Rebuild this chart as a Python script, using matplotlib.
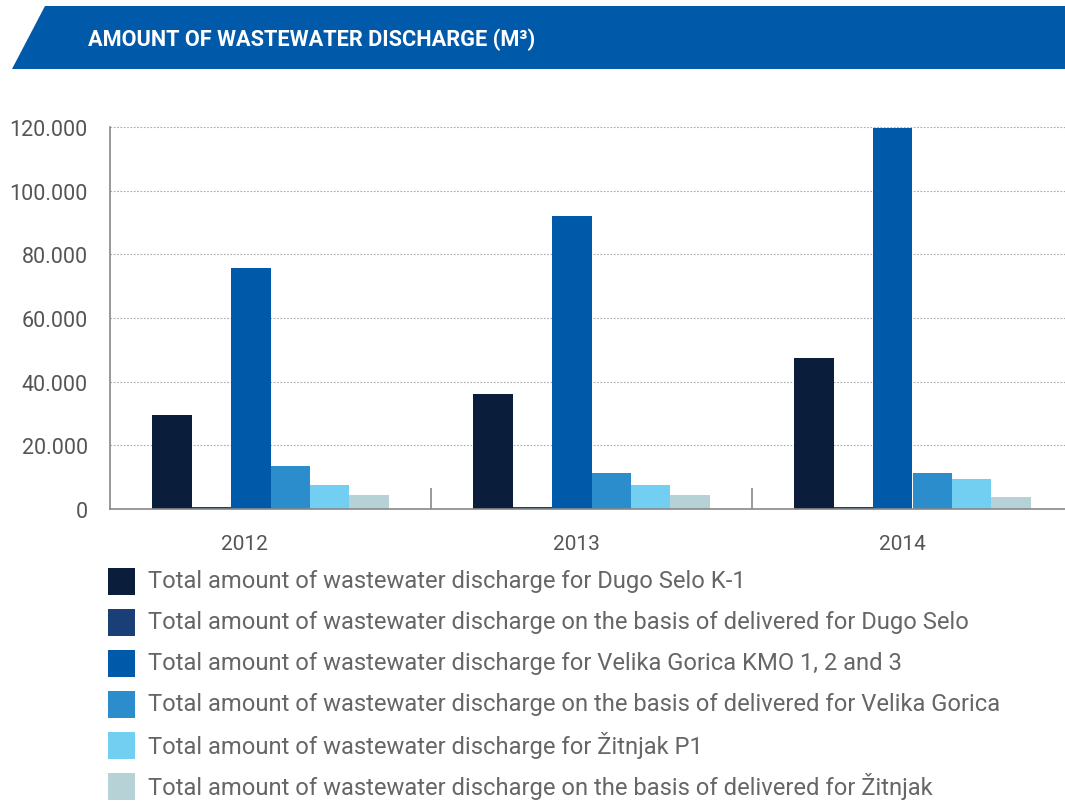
import numpy as np
import matplotlib.pyplot as plt
from matplotlib import ticker
from matplotlib.patches import Polygon, Rectangle

plt.rcParams['font.family'] = ['Roboto', 'DejaVu Sans']

years = ['2012', '2013', '2014']
series_labels = [
    'Total amount of wastewater discharge for Dugo Selo K-1',
    'Total amount of wastewater discharge on the basis of delivered for Dugo Selo',
    'Total amount of wastewater discharge for Velika Gorica KMO 1, 2 and 3',
    'Total amount of wastewater discharge on the basis of delivered for Velika Gorica',
    'Total amount of wastewater discharge for Žitnjak P1',
    'Total amount of wastewater discharge on the basis of delivered for Žitnjak',
]
dugo_selo_k1 = [29500, 36000, 47300]
dugo_selo_delivered = [700, 700, 700]
velika_gorica_kmo = [75600, 91900, 119600]
velika_gorica_delivered = [13400, 11300, 11300]
zitnjak_p1 = [7500, 7500, 9400]
zitnjak_delivered = [4400, 4400, 3800]

series = [dugo_selo_k1, dugo_selo_delivered, velika_gorica_kmo,
          velika_gorica_delivered, zitnjak_p1, zitnjak_delivered]
colors = ['#0a1e3b', '#1a3f77', '#005aa9', '#2b8dcc', '#72cff2', '#b7d2d6']

W, H = 1065, 803
fig = plt.figure(figsize=(W / 100, H / 100), dpi=100)

# header band
band = Polygon([(45 / W, 1 - 7 / H), (1.0, 1 - 7 / H), (1.0, 1 - 70 / H), (12 / W, 1 - 70 / H)],
               closed=True, transform=fig.transFigure, facecolor='#005aa9', edgecolor='none')
fig.patches.append(band)
fig.text(88 / W, 1 - 40 / H, 'AMOUNT OF WASTEWATER DISCHARGE (M³)', color='white',
         fontsize=15.7, fontweight='bold', va='center', ha='left')

# plot area runs a little past the right edge of the image
ax = fig.add_axes([110 / W, 1 - 510 / H, 963 / W, (510 - 128) / H])

x = np.arange(len(years))
w = 0.123
for i, (vals, c) in enumerate(zip(series, colors)):
    ax.bar(x + (i - 2.5) * w, vals, width=w, color=c, linewidth=0, zorder=3)

ax.set_xlim(-0.5, 2.5)
ax.set_ylim(0, 120000)
ax.yaxis.set_major_locator(ticker.MultipleLocator(20000))
ax.yaxis.set_major_formatter(ticker.FuncFormatter(lambda v, p: f'{int(v):,}'.replace(',', '.')))
# year labels sit slightly left of the group centres in the original
ax.set_xticks(x - np.array([0.08, 0.048, 0.03]))
ax.set_xticklabels(years)
ax.set_xticks([0.5, 1.5], minor=True)
ax.tick_params(axis='x', which='major', length=0, pad=18, labelsize=15, labelcolor='#555555')
ax.tick_params(axis='x', which='minor', length=15, direction='in', color='#888888', width=1.2)
ax.tick_params(axis='y', length=0, pad=16, labelsize=15.5, labelcolor='#555555')

ax.grid(axis='y', linestyle=(0, (1.5, 1.5)), color='#aaaaaa', linewidth=0.8, zorder=0)
for s in ['top', 'right']:
    ax.spines[s].set_visible(False)
for s in ['left', 'bottom']:
    ax.spines[s].set_color('#888888')
    ax.spines[s].set_linewidth(1.2)
    ax.spines[s].set_zorder(4)

# legend
for i, (lab, c) in enumerate(zip(series_labels, colors)):
    yc = 582 + i * 41
    fig.patches.append(Rectangle((108 / W, 1 - (yc + 13.5) / H), 27 / W, 27 / H,
                                 transform=fig.transFigure, facecolor=c, edgecolor='none'))
    fig.text(148 / W, 1 - yc / H, lab, fontsize=17.1, color='#666666', va='center', ha='left')

fig.savefig('out.png', dpi=100)
